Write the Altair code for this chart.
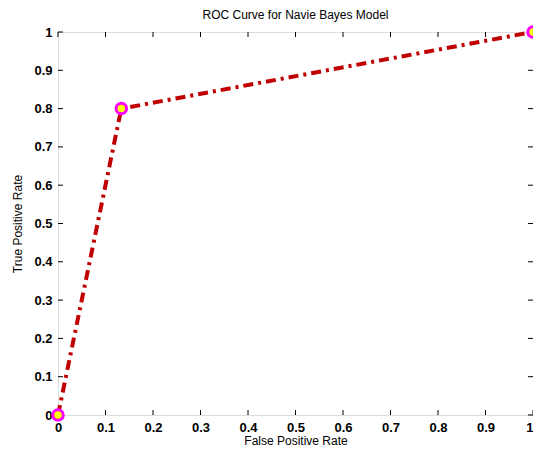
import altair as alt
import pandas as pd

fpr = [0.0, 0.1333, 1.0]
tpr = [0.0, 0.8, 1.0]
tick_vals = [0.0, 0.1, 0.2, 0.3, 0.4, 0.5, 0.6, 0.7, 0.8, 0.9, 1.0]

W, H = 475, 383
df = pd.DataFrame({"fpr": fpr, "tpr": tpr})
ticks = pd.DataFrame({"v": tick_vals})

FONT = "Liberation Sans"
xs = alt.Scale(domain=[0, 1], nice=False, zero=False)
ys = alt.Scale(domain=[0, 1], nice=False, zero=False)

xaxis = alt.Axis(values=tick_vals, format="~g", title="False Positive Rate", tickSize=0,
                 domain=False, grid=False, labelFont=FONT, labelFontSize=13, labelFontWeight="bold",
                 labelColor="black", labelPadding=6, labelOverlap=False, labelFlush=False,
                 labelAlign={"expr": "datum.value >= 1 ? 'right' : 'center'"},
                 titleFont=FONT, titleFontSize=12,
                 titleFontWeight="normal", titleColor="black", titlePadding=1)
yaxis = alt.Axis(values=tick_vals, format="~g", title="True Positive Rate", tickSize=0,
                 domain=False, grid=False, labelFont=FONT, labelFontSize=13, labelFontWeight="bold",
                 labelColor="black", labelPadding=6, labelOverlap=False, labelFlush=False,
                 titleFont=FONT, titleFontSize=12,
                 titleFontWeight="normal", titleColor="black", titlePadding=9)

line = alt.Chart(df).mark_line(color="#c00000", strokeWidth=4, strokeDash=[10, 5, 3, 5]).encode(
    x=alt.X("fpr:Q", scale=xs, axis=xaxis),
    y=alt.Y("tpr:Q", scale=ys, axis=yaxis),
)
pts = alt.Chart(df).mark_point(shape="circle", size=110, filled=True, fill="#ffff00",
                               stroke="#ff00ff", strokeWidth=3, opacity=1).encode(
    x=alt.X("fpr:Q", scale=xs, axis=xaxis),
    y=alt.Y("tpr:Q", scale=ys, axis=yaxis),
)
tb = alt.Chart(ticks).mark_rule(color="black", strokeWidth=1).encode(
    x=alt.X("v:Q", scale=xs, axis=xaxis), y=alt.value(H), y2=alt.value(H - 5))
tt = alt.Chart(ticks).mark_rule(color="black", strokeWidth=1).encode(
    x=alt.X("v:Q", scale=xs, axis=xaxis), y=alt.value(0), y2=alt.value(5))
tl = alt.Chart(ticks).mark_rule(color="black", strokeWidth=1).encode(
    y=alt.Y("v:Q", scale=ys, axis=yaxis), x=alt.value(0), x2=alt.value(5))
tr = alt.Chart(ticks).mark_rule(color="black", strokeWidth=1).encode(
    y=alt.Y("v:Q", scale=ys, axis=yaxis), x=alt.value(W), x2=alt.value(W - 5))

chart = alt.layer(line, tb, tt, tl, tr, pts).properties(
    width=W, height=H,
    title=alt.Title("ROC Curve for Navie Bayes Model", font=FONT, fontSize=12,
                    fontWeight="normal", color="black", offset=2, dy=3),
    autosize=alt.AutoSizeParams(type="none"),
    padding={"left": 50, "top": 24, "right": 0, "bottom": 34},
).configure_view(stroke="black", strokeWidth=1.5).configure(background="white")

chart.save("out.html", embed_options={"renderer": "svg", "actions": False})
